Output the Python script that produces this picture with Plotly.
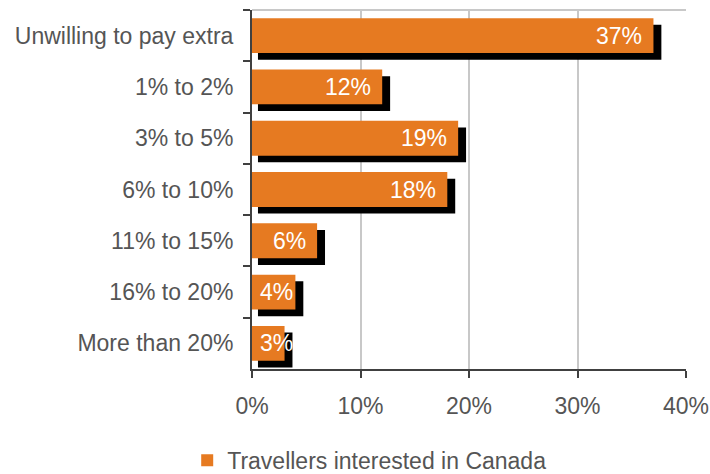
import plotly.graph_objects as go

categories = ["Unwilling to pay extra", "1% to 2%", "3% to 5%", "6% to 10%",
              "11% to 15%", "16% to 20%", "More than 20%"]
values = [37, 12, 19, 18, 6, 4, 3]
series_name = "Travellers interested in Canada"
x_ticks = [0, 10, 20, 30, 40]
x_ticklabels = ["0%", "10%", "20%", "30%", "40%"]

ORANGE = "#E67A21"
TEXT = "#555555"
AXIS = "#404040"
FONT = "Liberation Sans"
FS = 23

fig = go.Figure()

# shadow
fig.add_trace(go.Bar(
    y=categories, x=[v + 0.18 for v in values], base=0.55, orientation="h",
    marker=dict(color="black", line=dict(width=0)),
    width=0.68, offset=-0.34 + 0.13, showlegend=False, hoverinfo="skip",
))
# main bars
fig.add_trace(go.Bar(
    y=categories, x=values, orientation="h", name=series_name,
    marker=dict(color=ORANGE, line=dict(width=0)),
    width=0.68, offset=-0.34, hoverinfo="x+y",
))

for c, v in zip(categories, values):
    if v >= 5:
        fig.add_annotation(x=v, y=c, xref="x", yref="y", text=f"{v}%",
                           xanchor="right", xshift=-9, showarrow=False,
                           font=dict(family=FONT, size=FS, color="white"))
    else:
        fig.add_annotation(x=0, y=c, xref="x", yref="y", text=f"{v}%",
                           xanchor="left", xshift=6, showarrow=False,
                           font=dict(family=FONT, size=FS, color="white"))

# top border
fig.add_shape(type="line", xref="x domain", yref="y domain",
              x0=0, x1=1, y0=1, y1=1, line=dict(color="#C8C8C8", width=2))

fig.update_layout(
    width=710, height=474,
    margin=dict(l=252, r=24, t=10, b=105, autoexpand=False),
    plot_bgcolor="white", paper_bgcolor="white",
    barmode="overlay",
    font=dict(family=FONT, size=FS, color=TEXT),
    showlegend=True,
    legend=dict(orientation="h", xref="container", yref="container",
                x=0.52, xanchor="center", y=0.029, yanchor="middle",
                font=dict(family=FONT, size=FS, color=TEXT),
                itemwidth=30),
    xaxis=dict(range=[0, 40], tickvals=x_ticks, ticktext=x_ticklabels,
               showgrid=True, gridcolor="#C8C8C8", gridwidth=2,
               showline=True, linecolor=AXIS, linewidth=2,
               ticks="outside", ticklen=7, tickcolor=AXIS, tickwidth=2,
               ticklabelstandoff=8, automargin=False,
               zeroline=False, fixedrange=True),
    yaxis=dict(autorange="reversed", showline=True, linecolor=AXIS,
               linewidth=2, ticks="outside", ticklen=7, tickcolor=AXIS,
               tickwidth=2, tickson="boundaries", showgrid=False,
               ticklabelstandoff=12, automargin=False, fixedrange=True),
)

fig.write_html("out.html", config={"displayModeBar": False},
               post_script="document.body.style.margin='0';")
